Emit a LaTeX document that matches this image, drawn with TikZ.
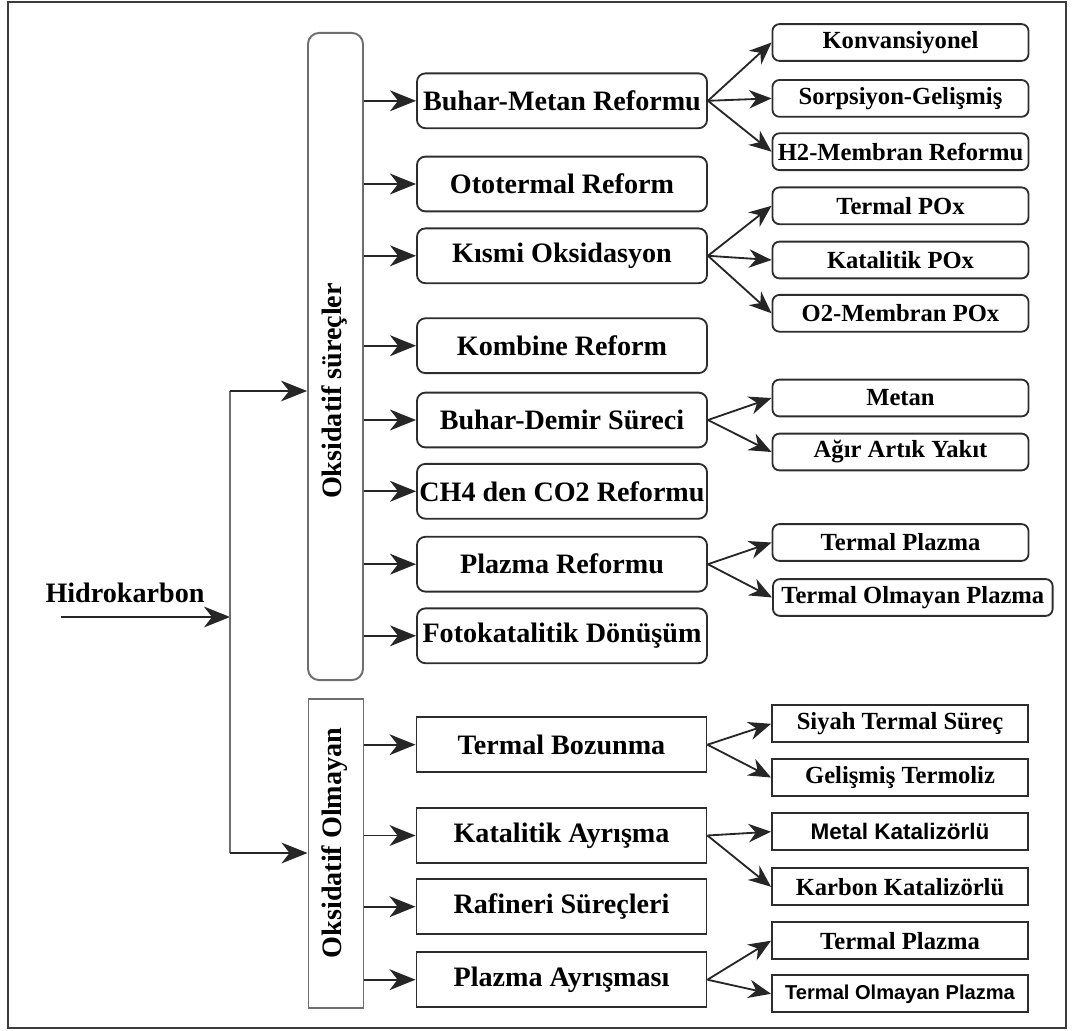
\documentclass[tikz,border=0pt]{standalone}
\usepackage{fontspec}
\setmainfont{Liberation Serif}
\newfontfamily\arialfont{Liberation Sans}
\usepackage{tikz}
\usetikzlibrary{arrows.meta}
\definecolor{framegray}{RGB}{60,60,60}
\definecolor{boxgray}{RGB}{45,45,45}
\definecolor{tallgray}{RGB}{110,110,110}

\begin{document}
\begin{tikzpicture}[x=0.025cm,y=-0.025cm,
  procbox/.style={draw=boxgray,line width=1.3pt,rounded corners=6pt,minimum width=7.25cm,minimum height=1.37cm,inner sep=0pt,font=\fontsize{20}{24}\selectfont\bfseries},
  subbox/.style={draw=boxgray,line width=1.3pt,rounded corners=5pt,minimum width=6.4cm,minimum height=0.92cm,inner sep=0pt,font=\fontsize{17.5}{20}\selectfont\bfseries},
  plainproc/.style={procbox,sharp corners},
  plainsub/.style={subbox,sharp corners},
  groupbox/.style={draw=tallgray,line width=1.4pt,minimum width=1.375cm,inner sep=0pt},
  grouplbl/.style={rotate=90,inner sep=0pt,font=\fontsize{20}{24}\selectfont\bfseries},
  arr/.style={-{Stealth[length=6.5mm,width=5.2mm,inset=2mm]},line width=1.4pt,draw=black!85},
  fan/.style={-{Stealth[length=5.6mm,width=4.6mm,inset=1.8mm]},line width=1.3pt,draw=black!85}]
\useasboundingbox (0,0) rectangle (1073,1031);
% Draw the frame
\draw[framegray,line width=1.8pt] (8,2) rectangle (1066,1028);
% Input
\node[inner sep=0pt,font=\fontsize{20}{24}\selectfont\bfseries] (hc) at (125,593) {Hidrokarbon};
\coordinate (in) at (61,617);
\coordinate (split) at (230,617);
\coordinate (up) at (230,391);
\coordinate (down) at (230,853);
% Group boxes
\node[groupbox,rounded corners=8pt,minimum height=16.175cm] (oks) at (335.5,356.5) {};
\node[groupbox,minimum height=7.725cm] (non) at (336,853.8) {};
\node[grouplbl] (okslbl) at (334,391) {Oksidatif süreçler};
\node[grouplbl] (nonlbl) at (335,843) {Oksidatif Olmayan};
% Oxidative processes
\node[procbox] (bmr) at (562,100.8) {Buhar-Metan Reformu};
\node[procbox] (oto) at (562,184) {Ototermal Reform};
\node[procbox] (kox) at (562,255.8) {Kısmi Oksidasyon};
\node[procbox] (kmb) at (562,345.7) {Kombine Reform};
\node[procbox] (bds) at (562,420) {Buhar-Demir Süreci};
\node[procbox] (ch4) at (562,491.3) {CH4 den CO2 Reformu};
\node[procbox] (plr) at (562,564.2) {Plazma Reformu};
\node[procbox] (fot) at (562,635.8) {Fotokatalitik Dönüşüm};
% Non-oxidative processes
\node[plainproc] (tbz) at (561.5,744.7) {Termal Bozunma};
\node[plainproc] (kay) at (561.5,835.5) {Katalitik Ayrışma};
\node[plainproc] (raf) at (561.5,906.7) {Rafineri Süreçleri};
\node[plainproc] (pay) at (561.5,979.7) {Plazma Ayrışması};
% Sub-processes (oxidative)
\node[subbox] (konv) at (900.5,42.5) {Konvansiyonel};
\node[subbox] (sorp) at (900.5,98.4) {Sorpsiyon-Gelişmiş};
\node[subbox] (hmem) at (900.5,151.7) {H2-Membran Reformu};
\node[subbox] (tpox) at (900.5,205.8) {Termal POx};
\node[subbox] (kpox) at (900.5,260) {Katalitik POx};
\node[subbox] (opox) at (900.5,313.3) {O2-Membran POx};
\node[subbox] (met) at (900.5,398) {Metan};
\node[subbox] (ayk) at (900.5,452) {Ağır Artık Yakıt};
\node[subbox] (tpl) at (900.5,542.5) {Termal Plazma};
\node[subbox,minimum width=6.99cm] (topl) at (912.8,597.5) {Termal Olmayan Plazma};
% Sub-processes (non-oxidative)
\node[plainsub] (sts) at (900,723.8) {Siyah Termal Süreç};
\node[plainsub] (gtl) at (900,777.5) {Gelişmiş Termoliz};
\node[plainsub,font=\arialfont\fontsize{16}{18}\selectfont\bfseries] (mkat) at (900,831.7) {Metal Katalizörlü};
\node[plainsub] (kkat) at (900,886.8) {Karbon Katalizörlü};
\node[plainsub] (tpl2) at (900,940.7) {Termal Plazma};
\node[plainsub,font=\arialfont\fontsize{14.3}{16}\selectfont\bfseries] (topl2) at (900,993.8) {Termal Olmayan Plazma};
% Feed lines
\draw[arr] (in) -- (split);
\draw[line width=1.3pt,draw=tallgray] (up) -- (down);
\draw[arr] (up) -- (up -| oks.west);
\draw[arr] (down) -- (down -| non.west);
% Group to process arrows
\foreach \p in {bmr,oto,kox,kmb,bds,ch4,plr,fot}
  \draw[arr] (\p.west -| oks.east) -- (\p.west);
\foreach \p in {tbz,kay,raf,pay}
  \draw[arr] (\p.west -| non.east) -- (\p.west);
% Process to sub-process arrows
\foreach \a/\b in {bmr/konv,bmr/sorp,bmr/hmem,kox/tpox,kox/kpox,kox/opox,bds/met,bds/ayk,plr/tpl,plr/topl,tbz/sts,tbz/gtl,kay/mkat,kay/kkat,pay/tpl2,pay/topl2}
  \draw[fan] (\a.east) -- (\b.west);
\end{tikzpicture}
\end{document}
